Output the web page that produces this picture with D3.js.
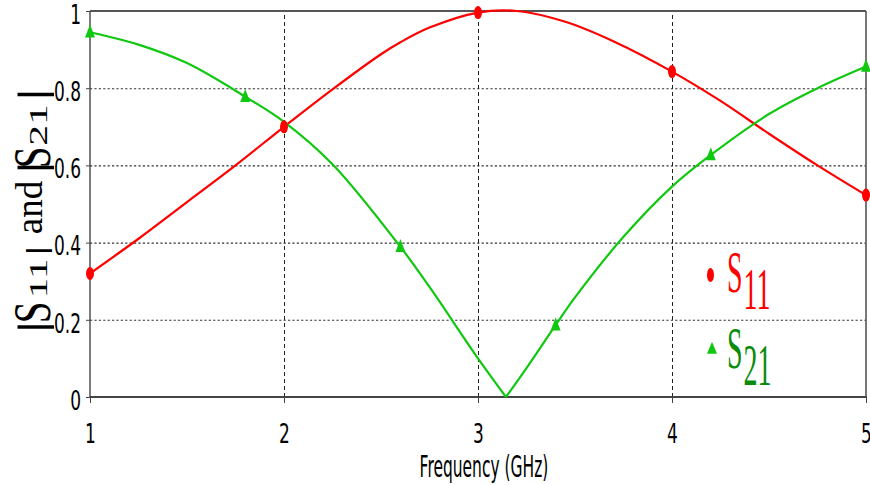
<!DOCTYPE html>
<html>
<head>
<meta charset="utf-8">
<script src="https://cdn.jsdelivr.net/npm/d3@7"></script>
<style>
  html, body { margin: 0; padding: 0; background: #fff; }
  svg { display: block; }
</style>
</head>
<body>
<svg id="chart" width="870" height="485"></svg>
<script>
// Frequency sweep and magnitudes of the reflection / transmission coefficients
const freqS11 = [1, 1.25, 1.5, 1.75, 2, 2.25, 2.5, 2.6, 2.75, 3, 3.2, 3.45, 3.7, 4, 4.25, 4.5, 4.75, 5];
const magS11  = [0.32, 0.41, 0.505, 0.60, 0.70, 0.797, 0.888, 0.919, 0.957, 0.996, 1.0, 0.972, 0.921, 0.843, 0.767, 0.682, 0.600, 0.523];

const freqS21 = [1, 1.25, 1.5, 1.8, 2, 2.25, 2.6, 2.75, 3, 3.144, 3.25, 3.4, 3.5, 3.75, 4, 4.2, 4.5, 4.75, 5];
const magS21  = [0.945, 0.913, 0.865, 0.778, 0.713, 0.603, 0.389, 0.285, 0.100, 0.0, 0.075, 0.186, 0.258, 0.415, 0.545, 0.627, 0.733, 0.800, 0.856];

// frequencies carrying a symbol on each trace
const markS11 = [1, 2, 3, 4, 5];
const markS21 = [1, 1.8, 2.6, 3.4, 4.2, 5];

const xTicks = [1, 2, 3, 4, 5];
const yTicks = [0, 0.2, 0.4, 0.6, 0.8, 1];
const yTickLabels = ["0", "0.2", "0.4", "0.6", "0.8", "1"];
const xTitle = "Frequency (GHz)";
const legendNames = [{ main: "S", sub: "11" }, { main: "S", sub: "21" }];

const RED = "#ff0000", GREEN = "#11c811", DARKGREEN = "#0b8a0b", AXIS = "#444";

const svg = d3.select("#chart");
const x = d3.scaleLinear().domain([1, 5]).range([90, 866]);
const y = d3.scaleLinear().domain([0, 1]).range([397, 11]);
const W = x.range()[1] - x.range()[0];
const H = y.range()[0] - y.range()[1];

// ---- grid ----
svg.append("g")
  .attr("transform", `translate(${x.range()[0]},0)`)
  .call(d3.axisLeft(y).tickValues([0.2, 0.4, 0.6, 0.8]).tickSize(-W).tickFormat(""))
  .call(g => g.select(".domain").remove())
  .call(g => g.selectAll("line").attr("stroke", "#333").attr("stroke-width", 1.1).attr("stroke-dasharray", "2.2,2.2"));

svg.append("g")
  .attr("transform", `translate(0,${y.range()[0]})`)
  .call(d3.axisBottom(x).tickValues([2, 3, 4]).tickSize(-H).tickFormat(""))
  .call(g => g.select(".domain").remove())
  .call(g => g.selectAll("line").attr("stroke", "#222").attr("stroke-width", 1).attr("stroke-dasharray", "4,3"));

// ---- axes with labels ----
const xAxis = svg.append("g")
  .attr("transform", `translate(0,${y.range()[0]})`)
  .call(d3.axisBottom(x).tickValues(xTicks).tickSize(6).tickFormat(d3.format("d")));
xAxis.select(".domain").remove();
xAxis.selectAll("line").attr("stroke", AXIS);
xAxis.selectAll("text")
  .attr("font-family", "DejaVu Sans, sans-serif")
  .attr("font-size", 17)
  .attr("fill", "#000")
  .attr("y", 36.5 / 1.6)
  .attr("dy", "0.36em")
  .attr("transform", "scale(1,1.6)");

const yAxis = svg.append("g")
  .attr("transform", `translate(${x.range()[0]},0)`)
  .call(d3.axisLeft(y).tickValues(yTicks).tickSize(4).tickFormat((d, i) => yTickLabels[i]));
yAxis.select(".domain").remove();
yAxis.selectAll("line").attr("stroke", AXIS);
yAxis.selectAll("text")
  .attr("font-family", "DejaVu Sans, sans-serif")
  .attr("font-size", 17)
  .attr("fill", "#000")
  .attr("x", -9)
  .attr("y", 2.5 / 1.6)
  .attr("dy", "0.36em")
  .attr("transform", "scale(1,1.6)");

// frame
svg.append("line").attr("x1", x.range()[0]).attr("x2", x.range()[1]).attr("y1", y(1)).attr("y2", y(1))
  .attr("stroke", "#555").attr("stroke-width", 2);
svg.append("line").attr("x1", x.range()[0]).attr("x2", x.range()[1] + 1).attr("y1", y(0)).attr("y2", y(0))
  .attr("stroke", AXIS).attr("stroke-width", 2.2);
svg.append("line").attr("x1", x(1)).attr("x2", x(1)).attr("y1", y(1)).attr("y2", y(0))
  .attr("stroke", AXIS).attr("stroke-width", 1.4);
svg.append("line").attr("x1", x(5)).attr("x2", x(5)).attr("y1", y(1)).attr("y2", y(0))
  .attr("stroke", "#555").attr("stroke-width", 1.6);

// ---- x title ----
svg.append("text")
  .attr("transform", `translate(${(x.range()[0] + x.range()[1]) / 2 + 6},466) scale(1,1.9)`)
  .attr("text-anchor", "middle")
  .attr("dy", "0.36em")
  .attr("font-family", "DejaVu Sans, sans-serif")
  .attr("font-size", 15.5)
  .attr("fill", "#000")
  .text(xTitle);

// ---- y title: |S11| and |S21| ----
const yl = svg.append("g").attr("transform", "translate(50,0) rotate(-90)");
function piece(txt, yc, xb, size, sx, sy) {
  yl.append("text")
    .attr("transform", `translate(${-yc},${xb - 50}) scale(${sx},${sy})`)
    .attr("text-anchor", "middle")
    .attr("font-family", "Liberation Serif, serif")
    .attr("font-size", size)
    .attr("fill", "#000")
    .text(txt);
}
piece("|", 327, 45, 40, 1.8, 1);
piece("S", 312.5, 50, 52, 0.75, 1);
piece("11", 278.5, 47, 26, 1.6, 1);
piece("|", 250.5, 46, 30, 1.8, 1);
piece("and", 207.5, 42, 37, 1, 1);
piece("|", 167.5, 45, 40, 1.8, 1);
piece("S", 157.5, 50, 52, 0.75, 1);
piece("21", 125, 47, 26, 1.6, 1);
piece("|", 94.5, 45, 40, 1.8, 1);

// ---- traces ----
const ptsS11 = freqS11.map((f, i) => [f, magS11[i]]);
const ptsS21 = freqS21.map((f, i) => [f, magS21[i]]);
const line = d3.line().x(d => x(d[0])).y(d => y(d[1])).curve(d3.curveCatmullRom.alpha(0.5));

svg.append("path").attr("d", line(ptsS11))
  .attr("fill", "none").attr("stroke", RED).attr("stroke-width", 2.2);

// the transmission trace has a sharp null: draw each side of it separately
const iNull = magS21.indexOf(d3.min(magS21));
[ptsS21.slice(0, iNull + 1), ptsS21.slice(iNull)].forEach(seg => {
  svg.append("path").attr("d", line(seg))
    .attr("fill", "none").attr("stroke", GREEN).attr("stroke-width", 2.2);
});

// symbols
svg.append("g").selectAll("ellipse")
  .data(markS11.map(f => ptsS11.find(p => p[0] === f)))
  .join("ellipse")
  .attr("cx", d => x(d[0])).attr("cy", d => y(d[1]))
  .attr("rx", 4).attr("ry", 6.5).attr("fill", RED);

const tri = (cx, cy, w, h) => `M${cx},${cy - h * 0.6}L${cx + w / 2},${cy + h * 0.4}L${cx - w / 2},${cy + h * 0.4}Z`;
svg.append("g").selectAll("path")
  .data(markS21.map(f => ptsS21.find(p => p[0] === f)))
  .join("path")
  .attr("d", d => tri(x(d[0]), y(d[1]), 10, 13)).attr("fill", GREEN);

// ---- legend ----
svg.append("ellipse").attr("cx", 710.5).attr("cy", 275).attr("rx", 3.5).attr("ry", 7).attr("fill", RED);
svg.append("path").attr("d", tri(712, 349, 10, 12)).attr("fill", GREEN);

[[RED, 292], [DARKGREEN, 368]].forEach(([col, base], i) => {
  const t = svg.append("text")
    .attr("transform", `translate(727,${base}) scale(1,2.1)`)
    .attr("font-family", "Liberation Serif, serif")
    .attr("font-size", 28)
    .attr("fill", col);
  t.append("tspan").text(legendNames[i].main);
  t.append("tspan").attr("dy", 17 / 2.1).attr("dx", 1).text(legendNames[i].sub);
});
</script>
</body>
</html>
